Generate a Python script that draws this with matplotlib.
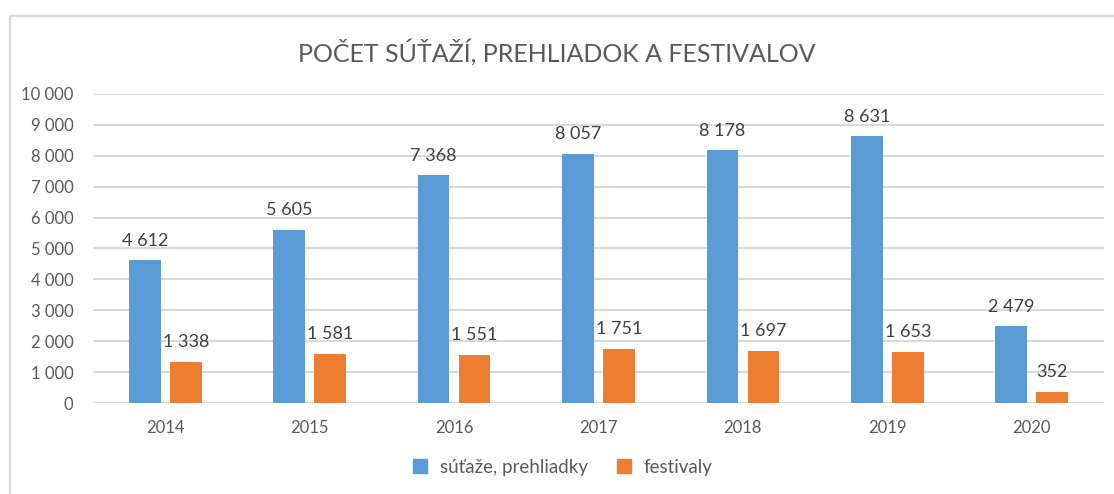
import matplotlib.pyplot as plt
from matplotlib.lines import Line2D
from matplotlib.ticker import FuncFormatter
import numpy as np

years = ['2014', '2015', '2016', '2017', '2018', '2019', '2020']
sutaze = [4612, 5605, 7368, 8057, 8178, 8631, 2479]
festivaly = [1338, 1581, 1551, 1751, 1697, 1653, 352]

blue = '#5b9bd5'
orange = '#ed7d31'
gray = '#595959'

plt.rcParams['font.family'] = ['Lato', 'DejaVu Sans']


def spaced(v, pos=None):
    return f'{int(v):,}'.replace(',', ' ')


fig = plt.figure(figsize=(11.14, 4.94), dpi=100)
ax = fig.add_axes([93 / 1114, 1 - 403 / 494, (1104 - 93) / 1114, (403 - 94) / 494])

x = np.arange(len(years))
w = 0.22
off = 0.142
b1 = ax.bar(x - off, sutaze, w, color=blue, zorder=3)
b2 = ax.bar(x + off, festivaly, w, color=orange, zorder=3)

for bars, vals in ((b1, sutaze), (b2, festivaly)):
    for r, v in zip(bars, vals):
        ax.text(r.get_x() + r.get_width() / 2, v + 380, spaced(v),
                ha='center', va='bottom', fontsize=13, color='#404040')

ax.set_xlim(-0.5, len(years) - 0.5)
ax.set_ylim(0, 10000)
ax.set_yticks(range(0, 10001, 1000))
ax.yaxis.set_major_formatter(FuncFormatter(spaced))
ax.set_xticks(x)
ax.set_xticklabels(years)
ax.grid(axis='y', color='#d9d9d9', linewidth=1.5, zorder=0)
for s in ax.spines.values():
    s.set_visible(False)
ax.tick_params(length=0, labelsize=12, colors=gray)
ax.tick_params(axis='y', pad=14)
ax.tick_params(axis='x', pad=12)

fig.text(0.5, 1 - 52 / 494, 'POČET SÚŤAŽÍ, PREHLIADOK A FESTIVALOV',
         ha='center', va='center', fontsize=18, color=gray)

handles = [Line2D([], [], marker='s', linestyle='', markersize=10, color=blue),
           Line2D([], [], marker='s', linestyle='', markersize=10, color=orange)]
fig.legend(handles, ['súťaže, prehliadky', 'festivaly'], loc='center',
           bbox_to_anchor=(0.5, 1 - 467 / 494), ncol=2, frameon=False,
           fontsize=13.5, labelcolor=gray, handletextpad=0.05, columnspacing=0.9)

# outer frame of the chart area (left and top edges)
fig.add_artist(Line2D([10 / 1114, 10 / 1114], [0, 1 - 16 / 494],
                      color='#d9d9d9', linewidth=1.5, transform=fig.transFigure))
fig.add_artist(Line2D([10 / 1114, 1], [1 - 16 / 494, 1 - 16 / 494],
                      color='#d9d9d9', linewidth=1.5, transform=fig.transFigure))

fig.savefig('out.png', dpi=100)
